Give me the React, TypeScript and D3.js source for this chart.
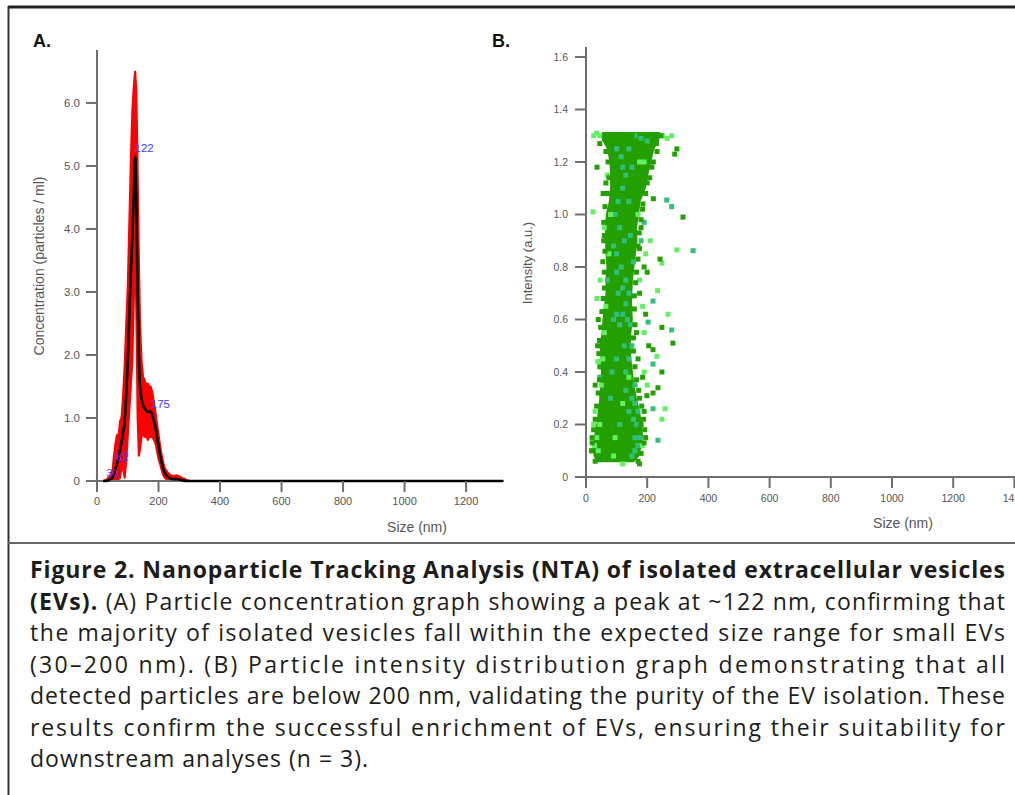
import * as d3 from 'd3';

// Panel A: NTA size distribution (mean line + error band)
const sizeNm = [20, 30, 40, 50, 55, 60, 65, 70, 75, 80, 85, 90, 95, 100, 105, 110, 115, 120, 124, 128, 132, 136, 140, 145, 150, 155, 160, 165, 170, 175, 180, 185, 190, 195, 200, 205, 210, 215, 220, 230, 240, 250, 260, 270, 280, 290, 300, 1320];
const meanConc = [0, 0, 0.02, 0.05, 0.1, 0.2, 0.28, 0.38, 0.5, 0.62, 0.78, 0.95, 1.4, 1.9, 2.6, 3.3, 3.9, 4.6, 5.15, 4.4, 3.0, 2.0, 1.5, 1.3, 1.2, 1.15, 1.12, 1.1, 1.1, 1.1, 1.05, 0.95, 0.85, 0.7, 0.55, 0.42, 0.3, 0.2, 0.13, 0.07, 0.04, 0.03, 0.03, 0.02, 0.01, 0, 0, 0];
const errConc = [0, 0.02, 0.05, 0.1, 0.3, 0.4, 0.45, 0.35, 0.45, 0.4, 0.6, 0.9, 1.1, 1.2, 1.5, 1.8, 2.0, 1.7, 1.35, 1.8, 2.0, 1.6, 1.0, 0.6, 0.45, 0.45, 0.4, 0.45, 0.4, 0.4, 0.35, 0.3, 0.25, 0.22, 0.2, 0.15, 0.12, 0.1, 0.08, 0.06, 0.05, 0.05, 0.06, 0.05, 0.03, 0.02, 0, 0];
const peakSizes = [30, 62, 122, 175];
const peakConc = [0, 0.25, 5.15, 1.1];
const concTicks = [0, 1, 2, 3, 4, 5, 6];
const sizeTicksA = [0, 200, 400, 600, 800, 1000, 1200];

// Panel B: intensity vs size scatter
// dense core envelope: intensity, min size, max size
const coreIntensity = [0.06, 0.08, 0.12, 0.16, 0.2, 0.25, 0.3, 0.35, 0.4, 0.45, 0.5, 0.55, 0.6, 0.65, 0.7, 0.75, 0.8, 0.85, 0.9, 0.95, 1.0, 1.05, 1.1, 1.15, 1.2, 1.25, 1.28, 1.31];
const coreMin = [38, 28, 25, 30, 37, 42, 47, 50, 52, 50, 48, 54, 57, 62, 67, 67, 70, 67, 65, 65, 68, 78, 82, 82, 80, 72, 58, 55];
const coreMax = [155, 170, 180, 183, 180, 173, 163, 155, 150, 145, 143, 145, 150, 147, 148, 150, 155, 160, 165, 163, 170, 175, 192, 200, 210, 220, 235, 240];
const darkPts = [[297, 1.25], [290, 1.23], [36, 1.18], [56, 1.08], [317, 0.99], [242, 0.83], [248, 0.57], [284, 0.51], [219, 0.485], [248, 0.4], [235, 0.34], [219, 0.32], [199, 0.31], [52, 0.31], [190, 0.8], [200, 0.78], [180, 0.95], [185, 1.02], [230, 1.27], [210, 1.3], [150, 1.3], [100, 1.3], [60, 1.29], [45, 1.27], [200, 1.12], [215, 1.18], [195, 0.62], [175, 0.7], [170, 0.45], [185, 0.38], [165, 0.55], [40, 0.6], [38, 0.5], [30, 0.35], [20, 0.15], [18, 0.1], [195, 0.15], [190, 0.25], [175, 0.3], [60, 0.92], [55, 0.82], [170, 0.88], [160, 1.05], [65, 1.12], [220, 1.06], [205, 0.5], [180, 0.2], [175, 0.05],
  [30, 0.06], [22, 0.1], [20, 0.13], [25, 0.18], [30, 0.22], [35, 0.27], [40, 0.32], [44, 0.37], [45, 0.42], [42, 0.47], [44, 0.52], [48, 0.57], [52, 0.63], [56, 0.68], [60, 0.72], [60, 0.78], [62, 0.86], [58, 0.9], [58, 0.97], [62, 1.03], [70, 1.08], [75, 1.14], [72, 1.2], [65, 1.24],
  [170, 0.06], [180, 0.09], [190, 0.13], [192, 0.18], [188, 0.22], [182, 0.27], [172, 0.33], [165, 0.37], [160, 0.42], [155, 0.48], [155, 0.53], [160, 0.58], [158, 0.64], [158, 0.69], [162, 0.74], [165, 0.78], [170, 0.83], [175, 0.87], [174, 0.93], [180, 0.98], [186, 1.04], [195, 1.08], [208, 1.14], [220, 1.2], [232, 1.24], [245, 1.3]];
const tealPts = [[264, 1.055], [280, 1.03], [350, 0.862], [280, 0.56], [219, 0.43], [219, 0.26], [235, 0.14], [45, 0.38], [219, 0.67], [203, 0.59], [200, 1.28], [180, 1.29], [160, 1.3], [120, 1.18], [130, 1.15], [140, 1.05], [110, 0.95], [125, 0.9], [100, 0.85], [115, 0.8], [130, 0.75], [105, 0.7], [95, 1.0], [120, 0.62], [135, 0.6], [145, 0.58], [150, 0.5], [140, 0.45], [160, 0.35], [150, 0.3], [170, 0.25], [165, 0.2], [175, 0.15], [170, 0.12], [150, 0.08], [160, 0.1], [130, 0.33], [125, 0.5], [90, 0.6], [70, 0.75], [180, 0.9], [190, 0.97], [145, 0.92], [155, 0.82], [115, 1.22], [150, 1.18], [85, 0.4], [110, 0.2],
  [100, 0.62], [110, 0.58], [130, 0.66], [140, 0.7], [120, 0.72], [100, 0.78], [90, 0.88], [105, 1.05], [120, 1.1], [100, 1.25], [140, 1.25], [160, 0.15], [155, 0.22], [140, 0.25], [160, 0.28], [80, 0.3], [100, 0.45], [130, 0.4]];
const lightPts = [[25, 1.3], [35, 1.31], [45, 1.3], [250, 1.3], [265, 1.29], [280, 1.3], [23, 1.01], [297, 0.865], [248, 0.815], [36, 0.68], [46, 0.75], [268, 0.62], [232, 0.46], [258, 0.26], [248, 0.22], [39, 0.44], [234, 0.71], [175, 0.75], [185, 0.65], [190, 0.55], [30, 0.25], [35, 0.15], [25, 0.2], [60, 0.55], [55, 0.45], [190, 0.4], [200, 0.35], [60, 0.95], [70, 1.15], [190, 1.2], [210, 0.9], [195, 0.85], [140, 0.38], [120, 0.28], [95, 0.15], [185, 0.12],
  [40, 0.1], [28, 0.12], [45, 0.2], [50, 0.35], [65, 0.65], [75, 0.85], [80, 1.0], [170, 1.0], [175, 1.2], [120, 0.05], [90, 0.08]];
const intensityTicks = [0, 0.2, 0.4, 0.6, 0.8, 1.0, 1.2, 1.4, 1.6];
const sizeTicksB = [0, 200, 400, 600, 800, 1000, 1200, 1400];

// caption lines (justified)
const captionLines = [
  [{ t: 'Figure 2. Nanoparticle Tracking Analysis (NTA) of isolated extracellular vesicles', b: true }],
  [{ t: '(EVs).', b: true }, { t: ' (A) Particle concentration graph showing a peak at ~122 nm, confirming that', b: false }],
  [{ t: 'the majority of isolated vesicles fall within the expected size range for small EVs', b: false }],
  [{ t: '(30–200 nm). (B) Particle intensity distribution graph demonstrating that all', b: false }],
  [{ t: 'detected particles are below 200 nm, validating the purity of the EV isolation. These', b: false }],
  [{ t: 'results confirm the successful enrichment of EVs, ensuring their suitability for', b: false }],
  [{ t: 'downstream analyses (n = 3).', b: false }],
];
const captionWidths = [975, 975, 975, 975, 975, 975, 338];

const AXIS = '#6e6e6e';
const TICK_TXT = '#555';
const FONT = 'Liberation Sans, Arial, sans-serif';

export default function App() {
  const xA = d3.scaleLinear().domain([0, 1320]).range([97, 503]);
  const yA = d3.scaleLinear().domain([0, 6.84]).range([481, 50]);
  const xB = d3.scaleLinear().domain([0, 1400]).range([586, 1014.4]);
  const yB = d3.scaleLinear().domain([0, 1.638]).range([477, 47]);

  const idx = d3.range(sizeNm.length);
  const band = d3
    .area<number>()
    .x((i) => xA(sizeNm[i]))
    .y0((i) => yA(Math.max(0, meanConc[i] - errConc[i])))
    .y1((i) => yA(meanConc[i] + errConc[i]));
  const meanLine = d3
    .line<number>()
    .x((i) => xA(sizeNm[i]))
    .y((i) => yA(meanConc[i]))
    .curve(d3.curveMonotoneX);

  const core = d3
    .area<number>()
    .y((i) => yB(coreIntensity[i]))
    .x0((i) => xB(coreMin[i]))
    .x1((i) => xB(coreMax[i]));
  const coreIdx = d3.range(coreIntensity.length);

  const ms = 5;
  const pts = (arr: number[][], color: string) =>
    arr.map((p, i) => (
      <rect key={color + i} x={xB(p[0]) - ms / 2} y={yB(p[1]) - ms / 2} width={ms} height={ms} fill={color} />
    ));

  return (
    <svg width={1015} height={795} style={{ position: 'absolute', left: 0, top: 0, background: '#fff' }}>
      {/* frame */}
      <line x1={8} y1={7} x2={1015} y2={7} stroke="#222" strokeWidth={3} />
      <line x1={8.5} y1={6} x2={8.5} y2={795} stroke="#333" strokeWidth={2} />
      <line x1={8} y1={543} x2={1015} y2={543} stroke="#666" strokeWidth={2} />

      {/* Panel A */}
      <text x={33} y={47} fontFamily={FONT} fontWeight="bold" fontSize={18} fill="#111">A.</text>
      <path d={band(idx) || ''} fill="#ff0000" stroke="#ff0000" strokeWidth={2} strokeLinejoin="round" />
      <line x1={97} y1={50} x2={97} y2={481} stroke={AXIS} strokeWidth={2} />
      <line x1={86} y1={481} x2={503} y2={481} stroke={AXIS} strokeWidth={2} />
      <path d={meanLine(idx) || ''} fill="none" stroke="#000" strokeWidth={2.6} />
      {concTicks.map((t) => (
        <g key={'ya' + t}>
          <line x1={86} x2={97} y1={yA(t)} y2={yA(t)} stroke={AXIS} strokeWidth={2} />
          <text x={80} y={yA(t)} dy="0.35em" textAnchor="end" fontFamily={FONT} fontSize={11.5} fill={TICK_TXT}>
            {t === 0 ? '0' : t.toFixed(1)}
          </text>
        </g>
      ))}
      {sizeTicksA.map((t) => (
        <g key={'xa' + t}>
          <line x1={xA(t)} x2={xA(t)} y1={481} y2={492} stroke={AXIS} strokeWidth={2} />
          <text x={xA(t)} y={505} textAnchor="middle" fontFamily={FONT} fontSize={11} fill={TICK_TXT}>{t}</text>
        </g>
      ))}
      {peakSizes.map((s, i) => (
        <text key={'pk' + s} x={xA(s)} y={yA(peakConc[i]) - 4} fontFamily={FONT} fontSize={11.5} fill="#3c3cff">{s}</text>
      ))}
      <text x={417} y={532} textAnchor="middle" fontFamily={FONT} fontSize={14} fill="#555">Size (nm)</text>
      <text transform="translate(44,266) rotate(-90)" textAnchor="middle" fontFamily={FONT} fontSize={14} fill="#555">
        Concentration (particles / ml)
      </text>

      {/* Panel B */}
      <text x={492} y={47} fontFamily={FONT} fontWeight="bold" fontSize={18} fill="#111">B.</text>
      <path d={core(coreIdx) || ''} fill="#23a000" stroke="#23a000" strokeWidth={2} strokeLinejoin="round" />
      {pts(tealPts, '#2fc07e')}
      {pts(lightPts, '#62f062')}
      {pts(darkPts, '#23a000')}
      <line x1={586} y1={47} x2={586} y2={477} stroke={AXIS} strokeWidth={2} />
      <line x1={575} y1={477} x2={1015} y2={477} stroke={AXIS} strokeWidth={2} />
      {intensityTicks.map((t) => (
        <g key={'yb' + t}>
          <line x1={575} x2={586} y1={yB(t)} y2={yB(t)} stroke={AXIS} strokeWidth={2} />
          <text x={568} y={yB(t)} dy="0.35em" textAnchor="end" fontFamily={FONT} fontSize={10.5} fill={TICK_TXT}>
            {t === 0 ? '0' : t.toFixed(1)}
          </text>
        </g>
      ))}
      {sizeTicksB.map((t) => (
        <g key={'xb' + t}>
          <line x1={xB(t)} x2={xB(t)} y1={477} y2={488} stroke={AXIS} strokeWidth={2} />
          <text x={xB(t)} y={502} textAnchor="middle" fontFamily={FONT} fontSize={10.5} fill={TICK_TXT}>{t}</text>
        </g>
      ))}
      <text x={903} y={528} textAnchor="middle" fontFamily={FONT} fontSize={14} fill="#555">Size (nm)</text>
      <text transform="translate(532,263) rotate(-90)" textAnchor="middle" fontFamily={FONT} fontSize={13} fill="#555">
        Intensity (a.u.)
      </text>

      {/* caption */}
      {captionLines.map((parts, i) => (
        <text
          key={'cap' + i}
          x={30}
          y={578 + i * 31.5}
          fontFamily="Open Sans, sans-serif"
          fontSize={23}
          fill="#1c1c1c"
          textLength={captionWidths[i]}
          lengthAdjust="spacing"
        >
          {parts.map((p, j) => (
            <tspan key={j} fontWeight={p.b ? 'bold' : 'normal'}>{p.t}</tspan>
          ))}
        </text>
      ))}
    </svg>
  );
}
